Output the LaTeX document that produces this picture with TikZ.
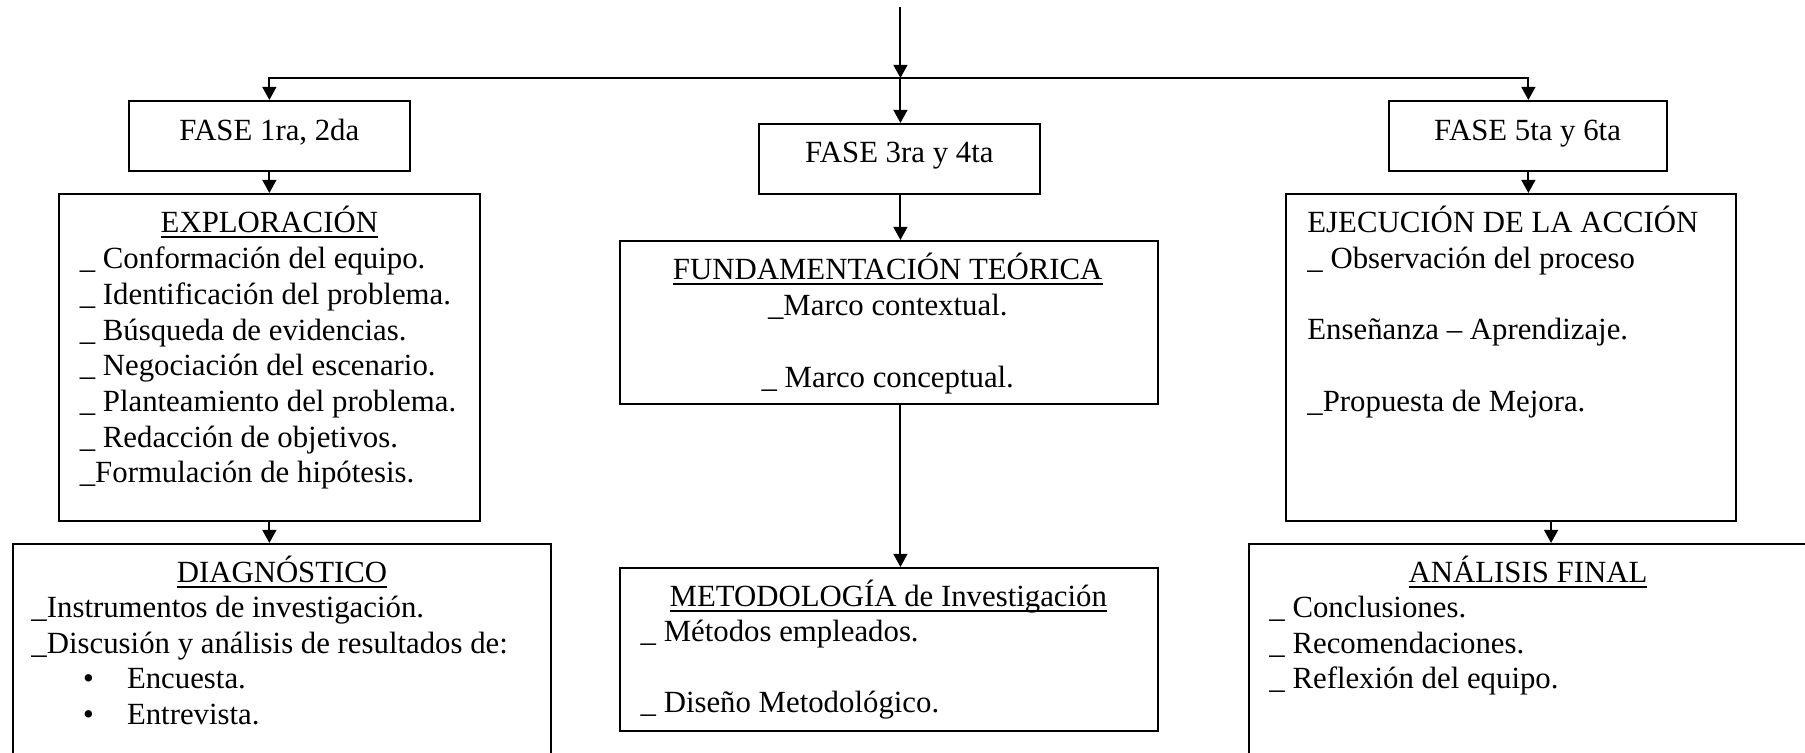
\documentclass[tikz,border=0pt]{standalone}
\usepackage{fontspec}
\setmainfont{Liberation Serif}
\usetikzlibrary{arrows.meta,fit}
\newcommand\dfont{\fontsize{15.4pt}{17.85pt}\selectfont}
\newcommand\ulx[1]{\setbox0\hbox{#1}\rlap{\rule[-2.3pt]{\wd0}{0.75pt}}\box0}
\tikzset{
  box/.style={draw, line width=1pt, inner sep=0pt, rectangle},
  arr/.style={-{Triangle[length=6.6pt,width=7pt]}, line width=0.95pt},
  lt/.style={inner sep=0pt, anchor=base west, font=\dfont},
  ct/.style={inner sep=0pt, anchor=base, font=\dfont},
}
\begin{document}
\begin{tikzpicture}[x=0.5756pt,y=-0.5pt]
\clip (0,0) rectangle (1568,753);
\fill[white] (0,0) rectangle (1568,753);
% boxes
\node[box, fit={(112,101) (356,171)}] (f1) {};
\node[box, fit={(659.2,124) (903,194)}] (f3) {};
\node[box, fit={(1207,101) (1448.4,171)}] (f5) {};
\node[box, fit={(51,194) (417,521)}] (exp) {};
\node[box, fit={(538.2,241) (1006.2,404)}] (fun) {};
\node[box, fit={(1117.4,194) (1508.4,521)}] (eje) {};
\node[box, fit={(11,544) (479,790)}] (dia) {};
\node[box, fit={(538.2,568) (1006.2,731)}] (met) {};
\node[box, fit={(1085.4,544) (1600,790)}] (ana) {};
% connectors
\coordinate (src) at (782.2,7);
\coordinate (j) at (782.2,78);
\draw[arr] (src) -- (j);
\draw[arr] (j) -- (j |- f3.north);
\draw[arr] (j) -| (f1.north);
\draw[arr] (j) -| (f5.north);
\draw[arr] (f1.south) -- (f1.south |- exp.north);
\draw[arr] (j |- f3.south) -- (j |- fun.north);
\draw[arr] (j |- fun.south) -- (j |- met.north);
\draw[arr] (f5.south) -- (f5.south |- eje.north);
\draw[arr] (exp.south) -- (exp.south |- dia.north);
\draw[arr] ([xshift=19.86pt]eje.south) -- ([xshift=19.86pt]eje.south |- ana.north);
% texts
\node[ct] (t1) at (234,141) {FASE 1ra, 2da};
\node[ct] (t3) at (781.2,163) {FASE 3ra y 4ta};
\node[ct] (t5) at (1327,141) {FASE 5ta y 6ta};
% exploracion
\node[ct] (e0) at (234,233) {\ulx{EXPLORACIÓN}};
\node[lt] (e1) at (69,268.7) {\_ Conformación del equipo.};
\node[lt] (e2) at (69,304.4) {\_ Identificación del problema.};
\node[lt] (e3) at (69,340.1) {\_ Búsqueda de evidencias.};
\node[lt] (e4) at (69,375.8) {\_ Negociación del escenario.};
\node[lt] (e5) at (69,411.5) {\_ Planteamiento del problema.};
\node[lt] (e6) at (69,447.2) {\_ Redacción de objetivos.};
\node[lt] (e7) at (69,482.9) {\_Formulación de hipótesis.};
% fundamentacion
\node[ct] (u0) at (771.2,280) {\ulx{FUNDAMENTACIÓN TEÓRICA}};
\node[ct] (u1) at (771.2,316) {\_Marco contextual.};
\node[ct] (u2) at (771.2,387.5) {\_ Marco conceptual.};
% ejecucion
\node[lt] (j0) at (1135.4,233) {EJECUCIÓN DE LA ACCIÓN};
\node[lt] (j1) at (1135.4,268.5) {\_ Observación del proceso};
\node[lt] (j2) at (1135.4,340) {Enseñanza – Aprendizaje.};
\node[lt] (j3) at (1135.4,411.5) {\_Propuesta de Mejora.};
% diagnostico
\node[ct] (d0) at (245,583) {\ulx{DIAGNÓSTICO}};
\node[lt] (d1) at (27,618) {\_Instrumentos de investigación.};
\node[lt] (d2) at (27,653.5) {\_Discusión y análisis de resultados de:};
\node[ct] (b1) at (77,689) {•};
\node[lt] (d3) at (110,689) {Encuesta.};
\node[ct] (b2) at (77,724.5) {•};
\node[lt] (d4) at (110,724.5) {Entrevista.};
% metodologia
\node[ct] (m0) at (771.7,607) {\ulx{METODOLOGÍA de Investigación}};
\node[lt] (m1) at (556.2,642) {\_ Métodos empleados.};
\node[lt] (m2) at (556.2,713) {\_ Diseño Metodológico.};
% analisis
\node[ct] (a0) at (1327.4,583) {\ulx{ANÁLISIS FINAL}};
\node[lt] (a1) at (1102.4,618) {\_ Conclusiones.};
\node[lt] (a2) at (1102.4,653.5) {\_ Recomendaciones.};
\node[lt] (a3) at (1102.4,689) {\_ Reflexión del equipo.};
\end{tikzpicture}
\end{document}
